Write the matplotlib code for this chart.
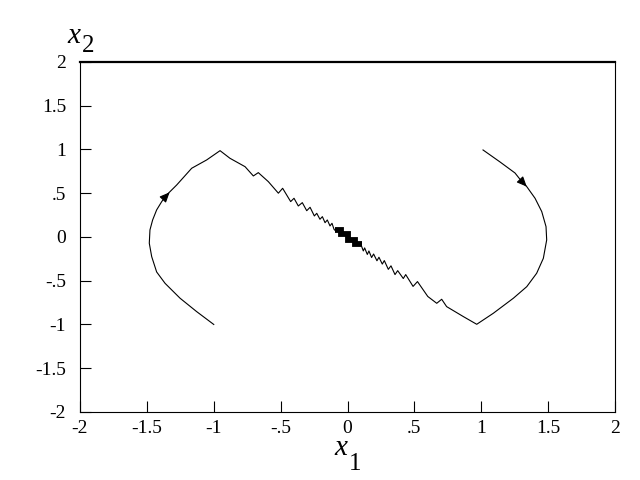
import matplotlib
matplotlib.use("Agg")
import matplotlib.pyplot as plt

# tick positions / labels
ticks = [-2, -1.5, -1, -0.5, 0, 0.5, 1, 1.5, 2]
tick_labels = ["-2", "-1.5", "-1", "-.5", "0", ".5", "1", "1.5", "2"]

# trajectory: left arc, chattering slide, right arc
left_x1 = [-1.0, -1.128, -1.252, -1.364, -1.427, -1.464, -1.482, -1.477, -1.457, -1.427,
           -1.389, -1.352, -1.277, -1.165, -1.053, -0.953]
left_x2 = [-1.0, -0.853, -0.70, -0.53, -0.40, -0.225, -0.072, 0.08, 0.194, 0.309,
           0.404, 0.48, 0.594, 0.785, 0.88, 0.986]

slide_l_x1 = [-0.879, -0.766, -0.704, -0.667, -0.592, -0.517, -0.485, -0.425, -0.40, -0.368,
              -0.338, -0.305, -0.28, -0.248, -0.23, -0.206, -0.188, -0.168, -0.151, -0.131,
              -0.116, -0.101, -0.093]
slide_l_x2 = [0.899, 0.803, 0.697, 0.735, 0.632, 0.50, 0.556, 0.404, 0.442, 0.354,
              0.392, 0.30, 0.339, 0.24, 0.27, 0.202, 0.232, 0.163, 0.194, 0.126,
              0.156, 0.088, 0.075]

# dense chattering near the origin (appears as solid blocks)
dense_x1 = [-0.093, -0.046, -0.046, 0.006, 0.006, 0.053, 0.053, 0.106]
dense_x2 = [0.075, 0.075, 0.035, 0.035, -0.036, -0.036, -0.082, -0.082]

slide_r_x1 = [0.106, 0.118, 0.128, 0.148, 0.16, 0.18, 0.195, 0.22, 0.235, 0.26,
              0.275, 0.305, 0.325, 0.355, 0.375, 0.417, 0.435, 0.49, 0.523, 0.60,
              0.667, 0.704, 0.741, 0.866]
slide_r_x2 = [-0.11, -0.16, -0.125, -0.2, -0.16, -0.235, -0.195, -0.272, -0.232, -0.31,
              -0.27, -0.37, -0.33, -0.43, -0.385, -0.475, -0.43, -0.565, -0.51, -0.68,
              -0.758, -0.712, -0.796, -0.91]

right_x1 = [0.966, 1.09, 1.24, 1.34, 1.414, 1.464, 1.489, 1.484, 1.452, 1.402,
            1.34, 1.305, 1.252, 1.14, 1.013]
right_x2 = [-0.998, -0.872, -0.70, -0.568, -0.415, -0.244, -0.034, 0.118, 0.29, 0.442,
            0.575, 0.629, 0.731, 0.857, 0.994]

# arrow heads: (tail, tip), along the curve direction
arrow_tails = [(-1.37, 0.445), (1.30, 0.64)]
arrow_tips = [(-1.33, 0.51), (1.34, 0.575)]

plt.rcParams['font.family'] = ['Liberation Serif', 'DejaVu Serif']

fig = plt.figure(figsize=(6.4, 4.8), dpi=100)
ax = fig.add_axes([0.125, 0.1417, 0.836, 0.7293])

ax.plot(left_x1 + slide_l_x1, left_x2 + slide_l_x2, color='k', lw=0.8)
ax.plot(dense_x1, dense_x2, color='k', lw=4.2, solid_capstyle='butt', solid_joinstyle='miter')
ax.plot(slide_r_x1 + right_x1, slide_r_x2 + right_x2, color='k', lw=0.8)

for tail, tip in zip(arrow_tails, arrow_tips):
    ax.annotate("", xy=tip, xytext=tail,
                arrowprops=dict(arrowstyle='-|>,head_length=0.5,head_width=0.22',
                                color='k', lw=0.8, mutation_scale=12,
                                shrinkA=0, shrinkB=0))

ax.set_xlim(-2, 2)
ax.set_ylim(-2, 2)
ax.set_xticks(ticks)
ax.set_xticklabels(tick_labels)
ax.set_yticks(ticks)
ax.set_yticklabels(tick_labels)
ax.tick_params(direction='in', length=8, width=0.8, labelsize=14, top=False, right=False)
ax.tick_params(axis='y', pad=10)
ax.tick_params(axis='x', pad=6)
for s in ['left', 'right', 'bottom']:
    ax.spines[s].set_linewidth(0.8)
ax.spines['top'].set_linewidth(1.6)

# axis labels: italic x with a plain subscript digit
fig.text(0.523, 0.052, "x", fontsize=21, style='italic', ha='left', va='baseline')
fig.text(0.545, 0.021, "1", fontsize=18, ha='left', va='baseline')
fig.text(0.105, 0.910, "x", fontsize=21, style='italic', ha='left', va='baseline')
fig.text(0.128, 0.892, "2", fontsize=18, ha='left', va='baseline')

fig.savefig("out.png", dpi=100)
